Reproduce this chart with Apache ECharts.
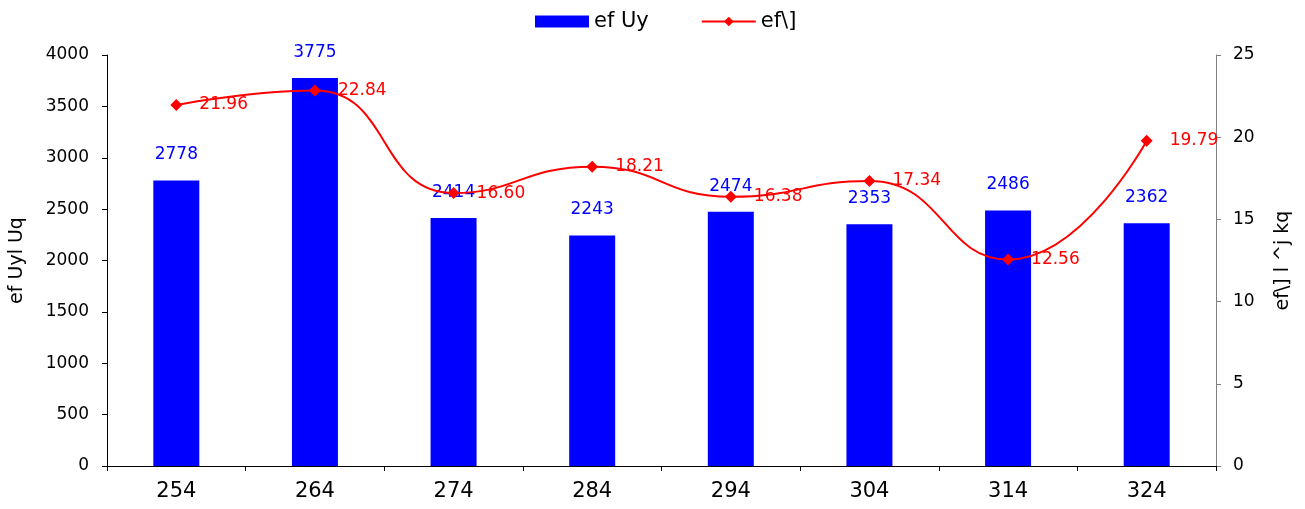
<!DOCTYPE html>
<html><head><meta charset="utf-8">
<script src="https://cdn.jsdelivr.net/npm/echarts@6/dist/echarts.min.js"></script>
<style>html,body{margin:0;padding:0;background:#fff}#c{width:1305px;height:509px}</style>
</head><body><div id="c"></div>
<script>
const categories = ['254','264','274','284','294','304','314','324'];
const barValues = [2778, 3775, 2414, 2243, 2474, 2353, 2486, 2362];
const lineValues = [21.96, 22.84, 16.60, 18.21, 16.38, 17.34, 12.56, 19.79];
const barName = 'ef Uy';
const lineName = 'ef\\]';
const leftTitle = 'ef Uyl Uq';
const rightTitle = 'ef\\] l ^j kq';

const font = 'DejaVu Sans';
const chart = echarts.init(document.getElementById('c'));
chart.setOption({
  animation: false,
  textStyle: {fontFamily: font},
  legend: {
    top: 6, left: 530, itemGap: 52, itemWidth: 54, itemHeight: 12,
    textStyle: {fontSize: 21, color: '#000', fontFamily: font},
    data: [{name: barName, icon: 'rect'}, {name: lineName}]
  },
  grid: {left: 106, right: 89, top: 55, bottom: 43},
  xAxis: {
    type: 'category', data: categories, boundaryGap: true,
    axisLine: {lineStyle: {color: '#000', width: 1}},
    axisTick: {show: true, length: 5, alignWithLabel: false, lineStyle: {color: '#000'}},
    axisLabel: {fontSize: 21, color: '#000', margin: 15}
  },
  yAxis: [
    {
      type: 'value', min: 0, max: 4000, interval: 500,
      name: leftTitle, nameLocation: 'middle', nameGap: 80, nameRotate: 90,
      nameTextStyle: {fontSize: 19, color: '#000'},
      axisLine: {show: true, lineStyle: {color: '#000'}},
      axisTick: {show: true, length: 5, lineStyle: {color: '#000'}},
      splitLine: {show: false},
      axisLabel: {fontSize: 17, color: '#000', margin: 18, formatter: v => String(v)}
    },
    {
      type: 'value', min: 0, max: 25, interval: 5, position: 'right',
      name: rightTitle, nameLocation: 'middle', nameGap: 58, nameRotate: 90,
      nameTextStyle: {fontSize: 19, color: '#000'},
      axisLine: {show: true, lineStyle: {color: '#808080'}},
      axisTick: {show: true, length: 5, lineStyle: {color: '#808080'}},
      splitLine: {show: false},
      axisLabel: {fontSize: 17, color: '#000', margin: 17}
    }
  ],
  series: [
    {
      name: barName, type: 'bar', data: barValues, barWidth: 46, yAxisIndex: 0,
      itemStyle: {color: '#0000FF'},
      label: {show: true, position: 'top', distance: 17, color: '#0000FF', fontSize: 17}
    },
    {
      name: lineName, type: 'line', data: lineValues, yAxisIndex: 1, smooth: 0.5,
      symbol: 'diamond', symbolSize: 12,
      lineStyle: {color: '#FF0000', width: 2}, itemStyle: {color: '#FF0000'},
      label: {show: true, position: 'right', distance: 17, color: '#FF0000', fontSize: 17,
        formatter: p => p.value.toFixed(2)}
    }
  ]
});
</script></body></html>
